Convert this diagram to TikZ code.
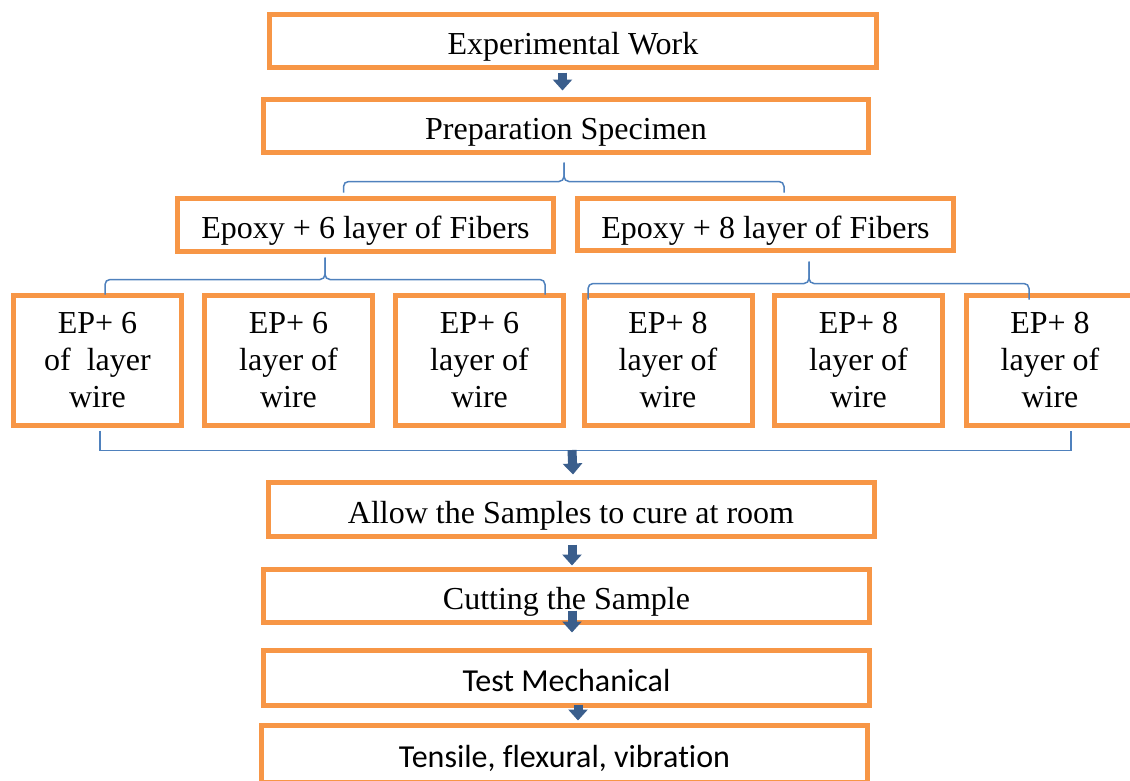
\documentclass[tikz,border=0pt]{standalone}
\usepackage{fontspec}
\setmainfont{Liberation Serif}
\newfontfamily\calibri[Ligatures=NoCommon]{Carlito}
\usetikzlibrary{arrows.meta}
\definecolor{boxorange}{RGB}{247,150,70}
\definecolor{linkblue}{RGB}{79,129,189}
\definecolor{arrowblue}{RGB}{58,94,140}

\begin{document}
\begin{tikzpicture}[x=1pt, y=-1pt, font=\fontsize{32}{37}\selectfont,
    box/.style={draw=boxorange, line width=5pt, fill=white, inner sep=0pt, text height=27pt, text depth=0pt},
    wire/.style={draw=boxorange, line width=5pt, fill=white, inner sep=0pt, minimum width=168pt, minimum height=130pt, align=center},
    sans/.style={font=\calibri\fontsize{32}{37}\selectfont},
    down/.style={draw=arrowblue, line width=9pt, -{Triangle[width=19pt,length=11pt]}},
    link/.style={draw=linkblue, line width=1.5pt},
    brace/.style={link, rounded corners=5pt}]
    \useasboundingbox (0,0) rectangle (1130,780);
    \clip (0,0) rectangle (1130,780);

    % Top steps
    \node[box, minimum width=607pt, minimum height=53pt] (work) at (573,41) {Experimental Work};
    \node[box, minimum width=605pt, minimum height=53pt] (prep) at (566,126) {Preparation Specimen};

    % Epoxy groups
    \node[box, minimum width=376pt, minimum height=53pt] (ep6) at (365.5,225) {Epoxy + 6 layer of Fibers};
    \node[box, minimum width=376pt, minimum height=52pt] (ep8) at (765.5,224.5) {Epoxy + 8 layer of Fibers};

    % Wire samples
    \node[wire] (ra) at (97.5,360.5) {EP+ 6\\of\ \ layer\\wire};
    \node[wire] (rb) at (288.5,360.5) {EP+ 6\\layer of\\wire};
    \node[wire] (rc) at (479.5,360.5) {EP+ 6\\layer of\\wire};
    \node[wire] (rd) at (668,360.5) {EP+ 8\\layer of\\wire};
    \node[wire] (re) at (858.5,360.5) {EP+ 8\\layer of\\wire};
    \node[wire] (rf) at (1050,360.5) {EP+ 8\\layer of\\wire};

    % Lower steps
    \node[box, minimum width=606pt, minimum height=54pt] (cure) at (571,509.5) {Allow the Samples to cure at room};
    \node[box, minimum width=606pt, minimum height=53pt] (cut) at (566.5,596) {Cutting the Sample};
    \node[box, sans, minimum width=606pt, minimum height=55pt] (test) at (566.5,678) {Test Mechanical};
    \node[box, sans, minimum width=606pt, minimum height=57pt] (tens) at (564.5,754) {Tensile, flexural, vibration};

    % Braces
    \draw[brace] ([xshift=-2pt,yshift=-7.5pt]prep.south) -- ++(0,19) -| ([xshift=-22pt,yshift=3.5pt]ep6.north);
    \draw[brace] ([xshift=-2pt,yshift=-7.5pt]prep.south) -- ++(0,19) -| ([xshift=18.5pt,yshift=3.5pt]ep8.north);
    \draw[brace] ([xshift=-40.5pt,yshift=-3.5pt]ep6.south) -- ++(0,22) -| ([xshift=7.5pt,yshift=-1.5pt]ra.north);
    \draw[brace] ([xshift=-40.5pt,yshift=-3.5pt]ep6.south) -- ++(0,22) -| ([xshift=65.5pt,yshift=-1.5pt]rc.north);
    \draw[brace] ([xshift=43.5pt,yshift=-8.5pt]ep8.south) -- ++(0,22) -| ([xshift=-80pt,yshift=-6.5pt]rd.north);
    \draw[brace] ([xshift=43.5pt,yshift=-8.5pt]ep8.south) -- ++(0,22) -| ([xshift=-21pt,yshift=-6.5pt]rf.north);
    \draw[link] ([xshift=2.5pt,yshift=-2.5pt]ra.south) -- ++(0,20) -| ([xshift=21pt,yshift=-2.5pt]rf.south);
    \coordinate (join) at (572,448);

    % Arrows
    \draw[down] ([xshift=-10.5pt,yshift=-2.5pt]work.south) -- ([xshift=-3.5pt,yshift=6.5pt]prep.north);
    \draw[down] ([yshift=-2pt]join) -- ([xshift=2pt,yshift=5.5pt]cure.north);
    \draw[down] ([xshift=1pt,yshift=-5.5pt]cure.south) -- ([xshift=5.5pt,yshift=1.5pt]cut.north);
    \draw[down] ([xshift=5.5pt,yshift=14.5pt]cut.south) -- ([xshift=5.5pt,yshift=15.5pt]test.north);
    \draw[down] ([xshift=11.5pt,yshift=3.5pt]test.south) -- ([xshift=13.5pt,yshift=2.5pt]tens.north);
\end{tikzpicture}
\end{document}
